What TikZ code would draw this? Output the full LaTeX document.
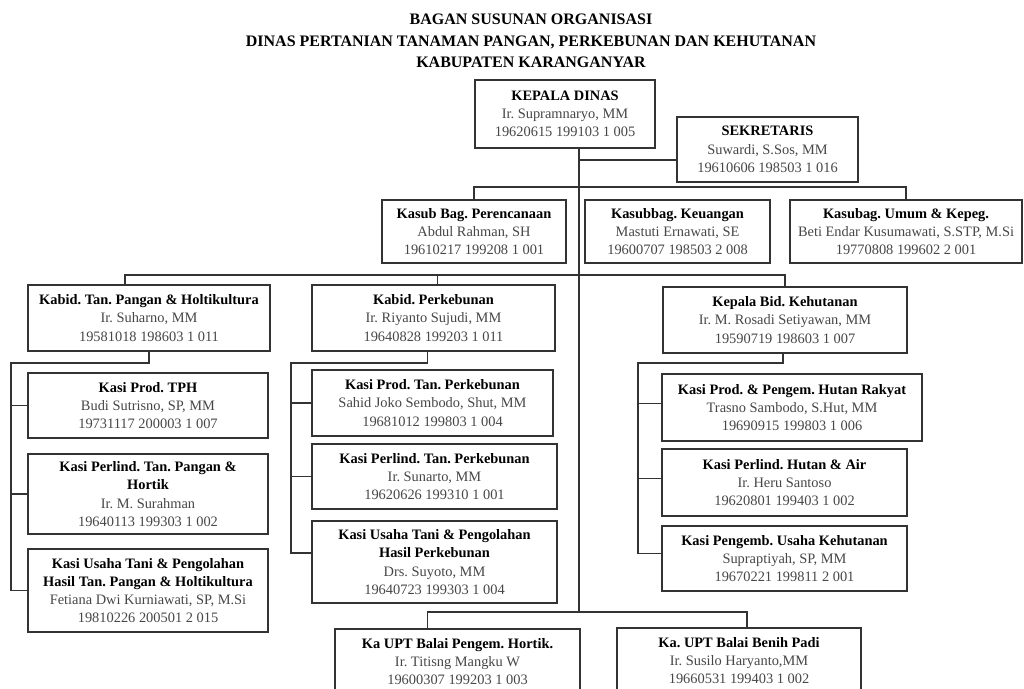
\documentclass[tikz,border=0pt]{standalone}
\usepackage{fontspec}
\setmainfont{Liberation Serif}
\frenchspacing
\newcommand\hd[1]{{\color{black}\textbf{#1}}}
\newcommand\boxat[6]{\node[box, minimum width={(#4-#2)*1pt}, minimum height={(#5-#3)*1pt}] (#1) at ({(#2+#4)/2},{(#3+#5)/2}) {#6};}
\begin{document}
\begin{tikzpicture}[x=1pt,y=-1pt,
  box/.style={draw=black!80, line width=1.8pt, fill=white, align=center, inner sep=0pt,
              font=\fontsize{14.4}{18.2}\selectfont, text=black!72},
  con/.style={draw=black!80, line width=1.8pt}]
\useasboundingbox (0,0) rectangle (1024,688);
\clip (0,0) rectangle (1024,688);

\node[font=\fontsize{16}{21.5}\selectfont\bfseries, align=center] (title) at (531,41)
  {BAGAN SUSUNAN ORGANISASI\\DINAS PERTANIAN TANAMAN PANGAN, PERKEBUNAN DAN KEHUTANAN\\KABUPATEN KARANGANYAR};

\boxat{kepala}{475}{80}{655}{148}{\hd{KEPALA DINAS}\\Ir. Supramnaryo, MM\\19620615 199103 1 005}
\boxat{sekretaris}{677}{117}{858}{182}{\hd{SEKRETARIS}\\Suwardi, S.Sos, MM\\19610606 198503 1 016}
\boxat{perenc}{382}{200}{566}{263}{\hd{Kasub Bag. Perencanaan}\\Abdul Rahman, SH\\19610217 199208 1 001}
\boxat{keuangan}{585}{200}{770}{263}{\hd{Kasubbag. Keuangan}\\Mastuti Ernawati, SE\\19600707 198503 2 008}
\boxat{umum}{790}{200}{1022}{263}{\hd{Kasubag. Umum \& Kepeg.}\\Beti Endar Kusumawati, S.STP, M.Si\\19770808 199602 2 001}

\boxat{kabidtp}{28}{285}{270}{351}{\hd{Kabid. Tan. Pangan \& Holtikultura}\\Ir. Suharno, MM\\19581018 198603 1 011}
\boxat{kabidkb}{312}{285}{555}{351}{\hd{Kabid. Perkebunan}\\Ir. Riyanto Sujudi, MM\\19640828 199203 1 011}
\boxat{kabidht}{663}{287}{907}{353}{\hd{Kepala Bid. Kehutanan}\\Ir. M. Rosadi Setiyawan, MM\\19590719 198603 1 007}

\boxat{tph1}{28}{373}{268}{438}{\hd{Kasi Prod. TPH}\\Budi Sutrisno, SP, MM\\19731117 200003 1 007}
\boxat{tph2}{28}{454}{268}{534}{\hd{Kasi Perlind. Tan. Pangan \&}\\\hd{Hortik}\\Ir. M. Surahman\\19640113 199303 1 002}
\boxat{tph3}{28}{549}{268}{632}{\hd{Kasi Usaha Tani \& Pengolahan}\\\hd{Hasil Tan. Pangan \& Holtikultura}\\Fetiana Dwi Kurniawati, SP, M.Si\\19810226 200501 2 015}

\boxat{kb1}{312}{370}{553}{436}{\hd{Kasi Prod. Tan. Perkebunan}\\Sahid Joko Sembodo, Shut, MM\\19681012 199803 1 004}
\boxat{kb2}{312}{444}{557}{509}{\hd{Kasi Perlind. Tan. Perkebunan}\\Ir. Sunarto, MM\\19620626 199310 1 001}
\boxat{kb3}{312}{521}{557}{603}{\hd{Kasi Usaha Tani \& Pengolahan}\\\hd{Hasil Perkebunan}\\Drs. Suyoto, MM\\19640723 199303 1 004}

\boxat{ht1}{662}{374}{922}{441}{\hd{Kasi Prod. \& Pengem. Hutan Rakyat}\\Trasno Sambodo, S.Hut, MM\\19690915 199803 1 006}
\boxat{ht2}{662}{449}{907}{516}{\hd{Kasi Perlind. Hutan \& Air}\\Ir. Heru Santoso\\19620801 199403 1 002}
\boxat{ht3}{662}{526}{907}{591}{\hd{Kasi Pengemb. Usaha Kehutanan}\\Supraptiyah, SP, MM\\19670221 199811 2 001}

\boxat{upt1}{335}{629}{580}{694}{\hd{Ka UPT Balai Pengem. Hortik.}\\Ir. Titisng Mangku W\\19600307 199203 1 003}
\boxat{upt2}{617}{628}{861}{693}{\hd{Ka. UPT Balai Benih Padi}\\Ir. Susilo Haryanto,MM\\19660531 199403 1 002}

% connectors
\coordinate (sp) at (579,613);
\draw[con] (kepala.south -| sp) -- (sp);
\draw[con] (sekretaris.west |- 0,160) -- (sp |- 0,160);
\draw[con] (perenc.north) -- ++(0,-12) -| (umum.north);
\draw[con] ([xshift=-24pt]kabidtp.north) -- ++(0,-9) -| (kabidht.north);
\draw[con] ([xshift=4pt]kabidkb.north) -- ++(0,-9);

\draw[con] (kabidtp.south) -- ++(0,11) -| ([xshift=-16pt]tph3.west) -- (tph3.west);
\draw[con] (tph1.west) -- ++(-16,0);
\draw[con] (tph2.west) -- ++(-16,0);

\draw[con] ([xshift=-6pt]kabidkb.south) -- ++(0,11) -| ([xshift=-20pt,yshift=9pt]kb3.west) -- ([yshift=9pt]kb3.west);
\draw[con] (kb1.west) -- ++(-20,0);
\draw[con] (kb2.west) -- ++(-20,0);

\draw[con] ([xshift=-2pt]kabidht.south) -- ++(0,9) -| ([xshift=-23pt,yshift=5pt]ht3.west) -- ([yshift=5pt]ht3.west);
\draw[con] ([yshift=4pt]ht1.west) -- ++(-23,0);
\draw[con] ([yshift=4pt]ht2.west) -- ++(-23,0);

\draw[con] ([xshift=-30pt]upt1.north) -- ++(0,-16) -| ([xshift=8pt]upt2.north);
\end{tikzpicture}
\end{document}
